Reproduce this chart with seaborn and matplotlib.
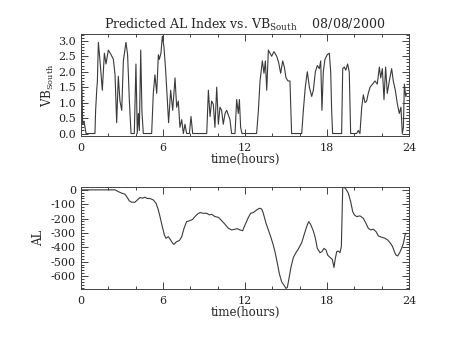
import numpy as np
import pandas as pd
import matplotlib
matplotlib.use("Agg")
import matplotlib.pyplot as plt
from matplotlib.ticker import MultipleLocator
import seaborn as sns

# ---- data ----
vb_time = [0.00, 0.07, 0.12, 0.22, 0.37, 1.02, 1.07, 1.15, 1.20, 1.27, 1.39, 1.56, 1.71, 1.83,
           2.00, 2.20, 2.37, 2.49, 2.61, 2.73, 2.85, 2.98, 3.10, 3.29, 3.41, 3.54, 3.66, 3.90,
           4.02, 4.12, 4.20, 4.27, 4.37, 4.46, 4.56, 5.17, 5.29, 5.41, 5.54, 5.66, 5.73, 5.85,
           5.95, 6.07, 6.20, 6.32, 6.41, 6.56, 6.71, 6.88, 7.00, 7.12, 7.24, 7.37, 7.49, 7.61,
           7.73, 7.93, 8.05, 8.17, 9.20, 9.32, 9.44, 9.56, 9.68, 9.80, 9.93, 10.05, 10.17, 10.29,
           10.41, 10.54, 10.66, 10.90, 11.02, 11.27, 11.39, 11.51, 11.59, 11.68, 11.78, 12.85,
           12.98, 13.10, 13.27, 13.39, 13.49, 13.59, 13.71, 13.83, 13.95, 14.12, 14.32, 14.46,
           14.61, 14.76, 14.88, 15.00, 15.15, 15.29, 15.41, 16.15, 16.27, 16.41, 16.56, 16.71,
           16.88, 17.00, 17.15, 17.29, 17.44, 17.54, 17.63, 17.73, 17.85, 18.02, 18.17, 18.27,
           18.34, 18.41, 18.95, 19.07, 19.15, 19.27, 19.37, 19.51, 19.63, 19.73, 20.17, 20.29,
           20.41, 20.54, 20.66, 20.78, 20.90, 21.02, 21.15, 21.34, 21.51, 21.68, 21.83, 21.93,
           22.05, 22.17, 22.29, 22.41, 22.56, 22.73, 22.85, 23.00, 23.15, 23.29, 23.41, 23.51,
           23.59, 23.66, 23.76, 23.83]
vb_south = [2.0, 1.5, 0.3, 0.4, 0.0, 0.0, 0.75, 1.4, 1.7, 2.95, 2.35, 1.4, 2.6, 2.25,
            2.7, 2.55, 2.4, 1.9, 0.35, 1.85, 1.05, 0.75, 2.35, 2.95, 2.55, 1.05, 0.0, 0.0,
            2.25, 0.0, 0.65, 0.1, 2.7, 0.7, 0.0, 0.0, 1.3, 1.9, 1.3, 2.55, 2.4, 2.6,
            3.15, 2.8, 2.0, 1.05, 0.35, 1.4, 0.75, 1.8, 0.85, 1.05, 0.2, 0.45, 0.0, 0.3,
            0.0, 0.0, 0.55, 0.0, 0.0, 1.4, 0.55, 1.05, 0.95, 0.2, 1.5, 0.3, 0.85, 0.75,
            0.3, 0.65, 0.75, 0.45, 0.0, 0.0, 1.1, 0.65, 1.1, 0.2, 0.0, 0.0,
            0.75, 1.7, 2.35, 1.95, 2.35, 1.4, 2.7, 2.6, 2.5, 2.65, 2.5, 2.3,
            1.95, 2.35, 2.15, 1.8, 1.7, 1.7, 0.0, 0.0, 0.75, 1.5, 2.0, 1.5,
            1.2, 1.4, 2.0, 2.2, 2.1, 2.35, 0.75, 2.0, 2.4, 2.55, 2.6, 2.0,
            0.75, 0.0, 0.0, 0.0, 2.1, 2.15, 2.05, 2.25, 1.98, 0.0, 0.0, 0.1,
            0.0, 0.85, 1.25, 1.0, 1.05, 1.3, 1.5, 1.6, 1.7, 1.6, 2.15, 1.8,
            2.1, 1.1, 2.15, 1.3, 1.7, 2.1, 1.7, 1.4, 0.95, 0.65, 0.85, 0.0,
            0.2, 1.6, 1.2, 1.3]

al_time = [0.00, 2.49, 2.73, 2.98, 3.22, 3.34, 3.54, 3.71, 3.95, 4.12, 4.32, 4.51, 4.68, 4.85,
           5.05, 5.29, 5.49, 5.66, 5.78, 5.95, 6.10, 6.22, 6.39, 6.56, 6.71, 6.80, 7.00, 7.20,
           7.37, 7.54, 7.73, 7.98, 8.17, 8.34, 8.54, 8.71, 8.95, 9.20, 9.39, 9.56, 9.80, 10.05,
           10.29, 10.54, 10.78, 11.02, 11.27, 11.44, 11.63, 11.83, 12.00, 12.24, 12.41, 12.61,
           12.85, 13.05, 13.22, 13.34, 13.54, 13.71, 13.88, 14.07, 14.22, 14.37, 14.51, 14.68,
           14.85, 15.00, 15.10, 15.24, 15.37, 15.54, 15.73, 15.93, 16.15, 16.32, 16.51, 16.66,
           16.80, 17.00, 17.15, 17.29, 17.49, 17.63, 17.78, 17.93, 18.05, 18.22, 18.39, 18.51,
           18.61, 18.71, 18.83, 18.95, 19.05, 19.15, 19.24, 19.39, 19.56, 19.73, 19.88, 20.00,
           20.17, 20.41, 20.66, 20.85, 21.02, 21.20, 21.39, 21.59, 21.76, 22.00, 22.24, 22.44,
           22.61, 22.78, 22.93, 23.05, 23.17, 23.29, 23.46, 23.59, 23.71, 23.78]
al_index = [0, 0, -12, -23, -30, -47, -77, -86, -86, -70, -53, -58, -51, -60,
            -60, -70, -93, -140, -186, -256, -314, -337, -326, -349, -372, -379, -360, -353,
            -326, -267, -221, -214, -205, -186, -167, -158, -163, -163, -174, -170, -186, -191,
            -214, -240, -267, -279, -274, -270, -279, -284, -244, -193, -163, -158,
            -140, -128, -133, -163, -233, -279, -326, -384, -442, -512, -582, -640,
            -663, -686, -679, -605, -535, -470, -437, -407, -367, -314, -256, -221,
            -240, -286, -337, -407, -437, -430, -407, -419, -454, -470, -484, -540,
            -477, -430, -426, -437, -395, 12, 19, 5, -23, -81, -151, -174,
            -186, -181, -198, -233, -267, -279, -274, -291, -321, -330, -337, -349,
            -367, -391, -430, -454, -460, -442, -407, -372, -314, -302]

x_ticks = [0, 6, 12, 18, 24]

df_vb = pd.DataFrame({"time": vb_time, "vb": vb_south})
df_al = pd.DataFrame({"time": al_time, "al": al_index})

sns.set_theme(style="ticks")
plt.rcParams["font.family"] = ["DejaVu Serif"]
plt.rcParams["mathtext.fontset"] = "dejavuserif"
plt.rcParams["axes.unicode_minus"] = False

W, H = 454, 341
fig = plt.figure(figsize=(W / 100, H / 100), dpi=100)
fig.patch.set_facecolor("white")

ax1 = fig.add_axes([81 / W, (H - 136) / H, 328 / W, 102 / H])
ax2 = fig.add_axes([81 / W, (H - 289) / H, 328 / W, 102 / H])

line_color = "#3a3a3a"
sns.lineplot(data=df_vb, x="time", y="vb", ax=ax1, color=line_color, linewidth=0.8,
             estimator=None, sort=False)
sns.lineplot(data=df_al, x="time", y="al", ax=ax2, color=line_color, linewidth=0.8,
             estimator=None, sort=False)

ax1.set_ylim(-0.08, 3.22)
ax1.yaxis.set_major_locator(MultipleLocator(0.5))
ax1.yaxis.set_minor_locator(MultipleLocator(0.1))
ax1.yaxis.set_major_formatter(matplotlib.ticker.FormatStrFormatter("%.1f"))
ax2.set_ylim(-690, 20)
ax2.yaxis.set_major_locator(MultipleLocator(100))
ax2.yaxis.set_minor_locator(MultipleLocator(20))

for ax in (ax1, ax2):
    ax.set_xlim(0, 24)
    ax.set_xticks(x_ticks)
    ax.xaxis.set_minor_locator(MultipleLocator(2))
    ax.tick_params(which="both", direction="in", top=True, right=True,
                   labelsize=8, width=0.6, colors="#222222")
    ax.tick_params(which="major", length=5)
    ax.tick_params(which="minor", length=2.5)
    ax.tick_params(axis="x", pad=5)
    for s in ax.spines.values():
        s.set_linewidth(0.7)
        s.set_color("#444444")
        s.set_visible(True)
    ax.set_xlabel("time(hours)", fontsize=8.5, labelpad=0)
    ax.set_facecolor("white")

ax1.set_ylabel("VB$_{\\mathrm{South}}$", fontsize=8.5, labelpad=2)
ax2.set_ylabel("AL", fontsize=8.5, labelpad=4)
ax1.set_title("Predicted AL Index vs. VB$_{\\mathrm{South}}$    08/08/2000",
              fontsize=9, pad=4)

fig.savefig("out.png", dpi=100, facecolor="white")
